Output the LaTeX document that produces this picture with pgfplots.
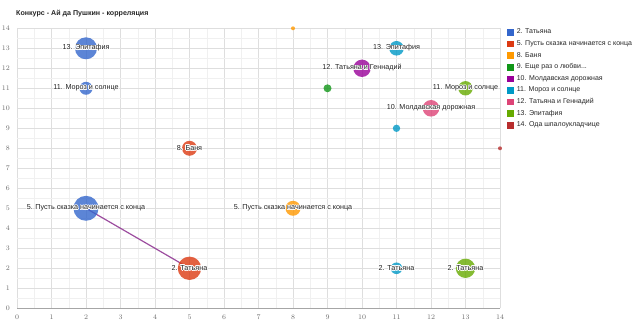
\documentclass[border=0pt]{standalone}
\usepackage{fontspec}
\setmainfont{Liberation Sans}
\usepackage{pgfplots}
\pgfplotsset{compat=1.18}
\usepackage{pgfplotstable}
\usepackage{contour}
\contourlength{0.7pt}
\contournumber{16}

\definecolor{cb}{HTML}{3366CC}
\definecolor{cr}{HTML}{DC3912}
\definecolor{co}{HTML}{FF9900}
\definecolor{cg}{HTML}{109618}
\definecolor{cp}{HTML}{990099}
\definecolor{cc}{HTML}{0099C6}
\definecolor{ck}{HTML}{DD4477}
\definecolor{cl}{HTML}{66AA00}
\definecolor{cd}{HTML}{B82E2E}
\definecolor{trend}{HTML}{9C4D9F}
\definecolor{lbl}{HTML}{222222}
\definecolor{tick}{HTML}{6A6A6A}

\pgfplotstableread[col sep=comma]{
x,y,r,label
2,13,11,13. Эпитафия
2,11,6.5,11. Мороз и солнце
2,5,12.5,5. Пусть сказка начинается с конца
}\tblB
\pgfplotstableread[col sep=comma]{
x,y,r,label
5,8,7.5,8. Баня
5,2,11.7,2. Татьяна
}\tblR
\pgfplotstableread[col sep=comma]{
x,y,r,label
8,14,2,{}
8,5,7.5,5. Пусть сказка начинается с конца
}\tblO
\pgfplotstableread[col sep=comma]{
x,y,r,label
9,11,4,{}
}\tblG
\pgfplotstableread[col sep=comma]{
x,y,r,label
10,12,8.7,12. Татьяна и Геннадий
}\tblP
\pgfplotstableread[col sep=comma]{
x,y,r,label
11,13,7.3,13. Эпитафия
11,9,3.7,{}
11,2,5.8,2. Татьяна
}\tblC
\pgfplotstableread[col sep=comma]{
x,y,r,label
12,10,8.3,10. Молдавская дорожная
}\tblK
\pgfplotstableread[col sep=comma]{
x,y,r,label
13,11,7.2,11. Мороз и солнце
13,2,9.7,2. Татьяна
}\tblL
\pgfplotstableread[col sep=comma]{
x,y,r,label
14,8,2,{}
}\tblD

\pgfplotsset{
  bubble/.style={scatter, only marks, mark=*, forget plot, color=#1,
    point meta=\thisrow{r},
    visualization depends on={\thisrow{r}\as\rad},
    scatter/use mapped color={draw=#1, fill=#1, draw opacity=0, fill opacity=0.8},
    scatter/@pre marker code/.append style={/tikz/mark size=\rad}},
  blabel/.style={only marks, mark=none, forget plot,
    point meta=explicit symbolic, nodes near coords={\contour{white}{\pgfplotspointmeta}},
    nodes near coords style={anchor=center, inner sep=0pt, font=\fontsize{7.2}{8}\selectfont, text=lbl}},
}

\begin{document}
\begin{tikzpicture}
\useasboundingbox (0,0) rectangle (640pt,324pt);
\node[anchor=base west, inner sep=0pt, font=\bfseries\fontsize{7.1}{8}\selectfont, text=black!85] at (16pt,308.5pt) {Конкурс - Ай да Пушкин - корреляция};
\begin{axis}[
  scale only axis, width=483pt, height=280pt,
  at={(17pt,15.7pt)}, anchor=south west,
  xmin=0, xmax=14, ymin=0, ymax=14,
  xtick={0,...,14}, ytick={0,...,14},
  minor tick num=1,
  grid=both,
  major grid style={draw=black!13},
  minor grid style={draw=black!6},
  major tick length=0pt, minor tick length=0pt,
  axis x line*=bottom, axis y line*=left,
  x axis line style={draw=black!35, -},
  y axis line style={draw=none},
  tick label style={font=\fontsize{7}{8}\selectfont, text=tick},
  xticklabel style={yshift=-3pt},
  yticklabel style={xshift=-3.5pt},
  legend style={draw=none, fill=none, at={(1.0145,1.0)}, anchor=north west,
    inner sep=0pt, outer sep=0pt, font=\fontsize{7}{8}\selectfont, text=black!85,
    row sep=3.9pt, nodes={inner sep=0.6pt, text height=5pt, text depth=1.5pt},
    /tikz/every even column/.append style={column sep=0pt},
    /tikz/every odd column/.append style={column sep=3.2pt}},
  legend cell align=left,
]
\addplot[trend, line width=1.2pt, forget plot] coordinates {(2,5) (5,2)};

\addplot[bubble=cb] table[x=x,y=y] {\tblB};
\addplot[bubble=cr] table[x=x,y=y] {\tblR};
\addplot[bubble=co] table[x=x,y=y] {\tblO};
\addplot[bubble=cg] table[x=x,y=y] {\tblG};
\addplot[bubble=cp] table[x=x,y=y] {\tblP};
\addplot[bubble=cc] table[x=x,y=y] {\tblC};
\addplot[bubble=ck] table[x=x,y=y] {\tblK};
\addplot[bubble=cl] table[x=x,y=y] {\tblL};
\addplot[bubble=cd] table[x=x,y=y] {\tblD};

\addplot[blabel] table[x=x,y=y,meta=label] {\tblB};
\addplot[blabel] table[x=x,y=y,meta=label] {\tblR};
\addplot[blabel] table[x=x,y=y,meta=label] {\tblO};
\addplot[blabel] table[x=x,y=y,meta=label] {\tblP};
\addplot[blabel] table[x=x,y=y,meta=label] {\tblC};
\addplot[blabel] table[x=x,y=y,meta=label] {\tblK};
\addplot[blabel] table[x=x,y=y,meta=label] {\tblL};

\addlegendimage{legend image code/.code={\fill[cb] (0pt,-2.8pt) rectangle (5.6pt,2.8pt);}}
\addlegendentry{2. Татьяна}
\addlegendimage{legend image code/.code={\fill[cr] (0pt,-2.8pt) rectangle (5.6pt,2.8pt);}}
\addlegendentry{5. Пусть сказка начинается с конца}
\addlegendimage{legend image code/.code={\fill[co] (0pt,-2.8pt) rectangle (5.6pt,2.8pt);}}
\addlegendentry{8. Баня}
\addlegendimage{legend image code/.code={\fill[cg] (0pt,-2.8pt) rectangle (5.6pt,2.8pt);}}
\addlegendentry{9. Еще раз о любви...}
\addlegendimage{legend image code/.code={\fill[cp] (0pt,-2.8pt) rectangle (5.6pt,2.8pt);}}
\addlegendentry{10. Молдавская дорожная}
\addlegendimage{legend image code/.code={\fill[cc] (0pt,-2.8pt) rectangle (5.6pt,2.8pt);}}
\addlegendentry{11. Мороз и солнце}
\addlegendimage{legend image code/.code={\fill[ck] (0pt,-2.8pt) rectangle (5.6pt,2.8pt);}}
\addlegendentry{12. Татьяна и Геннадий}
\addlegendimage{legend image code/.code={\fill[cl] (0pt,-2.8pt) rectangle (5.6pt,2.8pt);}}
\addlegendentry{13. Эпитафия}
\addlegendimage{legend image code/.code={\fill[cd] (0pt,-2.8pt) rectangle (5.6pt,2.8pt);}}
\addlegendentry{14. Ода шпалоукладчице}
\end{axis}
\end{tikzpicture}
\end{document}
